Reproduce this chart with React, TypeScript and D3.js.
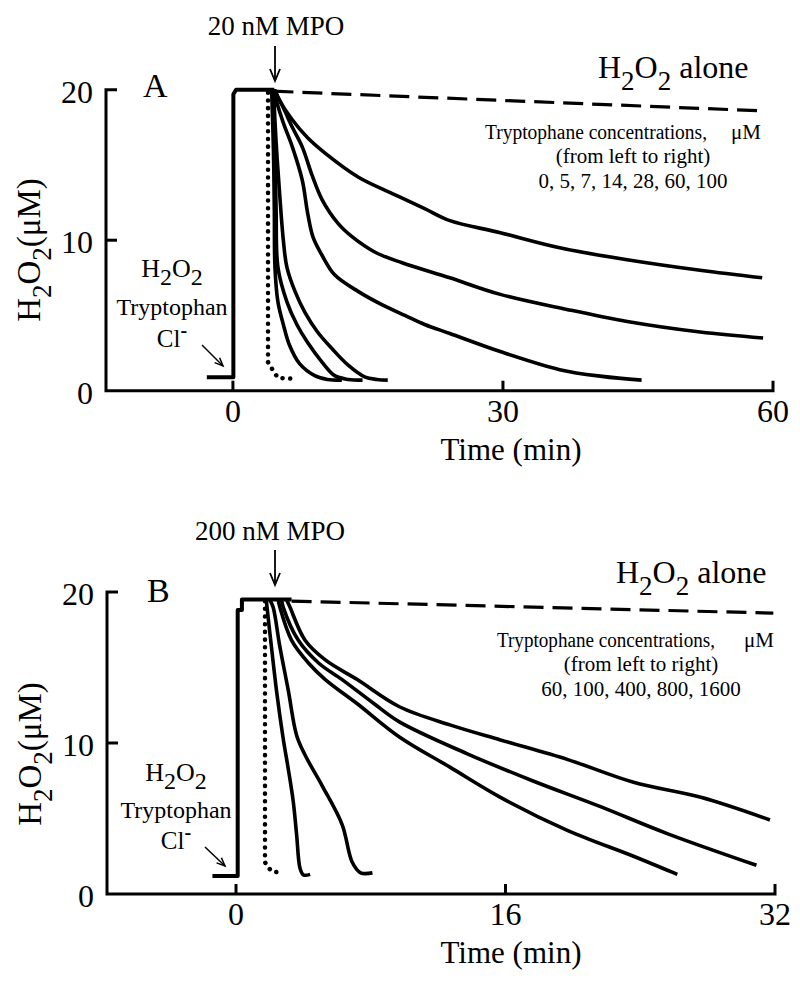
import React from "react";
import * as d3 from "d3";

type P = [number, number];

// ---------- Panel A data (time min, H2O2 µM) ----------
const traceA: P[] = [[-2.9, 0.9], [0.05, 0.9], [0.05, 19.7], [0.35, 20], [4.6, 20]];
const aloneA: P[] = [[4.5, 19.9], [58.5, 18.6]];
const dottedA: P[] = [[3.9, 19.8], [3.9, 10], [3.9, 1.9], [4.5, 1.3], [5.0, 0.85], [6.5, 0.8]];
const a5: P[] = [[4.3, 20], [4.5, 16], [4.6, 12], [4.67, 8.2], [5.0, 5.9], [5.6, 4.4], [6.3, 3.0], [7.4, 1.8], [9.1, 1.0], [10.5, 0.75], [12.1, 0.7]];
const a7: P[] = [[4.4, 20], [4.65, 16], [4.8, 12], [5.0, 8.2], [6.0, 5.9], [7.1, 4.4], [8.3, 3.2], [9.9, 1.9], [11.3, 1.0], [12.8, 0.75], [14.4, 0.7]];
const a14: P[] = [[4.5, 20], [4.8, 16.5], [5.2, 13], [5.6, 10], [6.0, 8.2], [6.9, 6.6], [8.0, 5.2], [9.4, 3.9], [11.0, 2.8], [12.8, 1.7], [14.7, 0.9], [16, 0.75], [17.2, 0.7]];
const a28: P[] = [[4.5, 20], [4.8, 19.3], [5.6, 17.8], [6.6, 16.2], [7.7, 14.0], [8.3, 11.8], [8.9, 10.2], [9.9, 9.0], [11.3, 7.7], [13.9, 6.6], [16.6, 5.7], [19.1, 5.0], [21.3, 4.4], [24.1, 3.8], [29.7, 2.6], [36.3, 1.4], [41, 0.95], [45.4, 0.7]];
const a60: P[] = [[4.6, 20], [5.6, 18.8], [6.6, 17.5], [7.7, 16.2], [8.8, 14.3], [9.9, 12.7], [11.7, 11.1], [13.3, 10.2], [15.8, 9.2], [18.8, 8.5], [24.1, 7.5], [29.7, 6.4], [37.1, 5.4], [43.8, 4.6], [51.9, 3.9], [58.9, 3.5]];
const a100: P[] = [[4.7, 20], [5.0, 19.5], [6.6, 18.0], [8.3, 16.8], [10.2, 15.8], [13.9, 14.2], [17.7, 13.1], [21.3, 12.1], [24.1, 11.3], [29.7, 10.5], [36.3, 9.5], [43.8, 8.7], [51.9, 8.0], [58.8, 7.5]];
const solidA: P[][] = [a5, a7, a14, a28, a60, a100];

// ---------- Panel B data ----------
const traceB: P[] = [[-1.4, 1.2], [0.1, 1.2], [0.1, 18.8], [0.35, 18.8], [0.35, 19.5], [3.3, 19.5]];
const aloneB: P[] = [[3.3, 19.4], [31.9, 18.6]];
const dottedB: P[] = [[1.72, 19.4], [1.72, 10], [1.72, 2.1], [2.1, 1.5], [2.7, 1.4]];
const b1: P[] = [[1.8, 19.5], [1.84, 19.0], [2.1, 16.4], [2.4, 13.5], [2.8, 10.3], [3.1, 8.3], [3.4, 6.1], [3.6, 3.9], [3.8, 1.7], [4.0, 1.26], [4.4, 1.3]];
const b2: P[] = [[2.0, 19.5], [2.2, 19.0], [2.6, 16.4], [3.1, 13.5], [3.6, 10.5], [4.1, 9.2], [5.1, 7.2], [6.3, 4.6], [6.9, 2.1], [7.4, 1.4], [8.1, 1.4]];
const b3: P[] = [[2.5, 19.5], [2.6, 19.0], [3.3, 16.8], [4.3, 15.3], [5.3, 14.2], [7.2, 12.6], [9.7, 10.4], [12.7, 8.4], [15.7, 6.4], [19.7, 4.2], [23.6, 2.5], [26.2, 1.3]];
const b4: P[] = [[2.7, 19.5], [2.8, 19.0], [3.7, 16.8], [4.9, 15.3], [6.3, 14.2], [8.2, 12.6], [9.7, 11.4], [13.7, 9.3], [17.6, 7.5], [21.6, 5.8], [25.6, 4.0], [30.9, 1.9]];
const b5: P[] = [[3.0, 19.5], [3.2, 19.0], [4.1, 16.8], [5.3, 15.5], [7.2, 14.2], [9.7, 12.4], [12.7, 11.2], [15.7, 10.2], [19.7, 8.9], [23.6, 7.4], [27.6, 6.4], [31.7, 4.9]];
const solidB: P[][] = [b1, b2, b3, b4, b5];

// ---------- ticks / labels ----------
const yTicks = [0, 10, 20];
const xTicksA = [0, 30, 60];
const xTicksB = [0, 16, 32];
const concA = "0, 5, 7, 14, 28, 60, 100";
const concB = "60, 100, 400, 800, 1600";

const FONT = "'Liberation Serif', 'Times New Roman', serif";

type PanelProps = {
  x: d3.ScaleLinear<number, number>;
  y: d3.ScaleLinear<number, number>;
  xTicks: number[];
  trace: P[];
  alone: P[];
  dotted: P[];
  solids: P[][];
  letter: string;
  mpo: string;
  conc: string;
  letterPos: [number, number];
  mpoPos: [number, number];
  arrowX: number;
  arrowY: [number, number];
  alonePos: [number, number];
  txt1: [number, number, number, number];
  txtC: number;
  leftLabel: [number, number, number, number];
  smallArrow: [number, number, number, number];
  yLabel: [number, number];
};

function Panel(p: PanelProps) {
  const { x, y } = p;
  const lineLin = d3.line<P>().x(d => x(d[0])).y(d => y(d[1]));
  const lineSmooth = d3.line<P>().x(d => x(d[0])).y(d => y(d[1])).curve(d3.curveCatmullRom.alpha(0.5));
  const x0 = x.range()[0];
  const x1 = x.range()[1];
  const y0 = y(0);
  const yTop = y(20);
  const [sx1, sy1, sx2, sy2] = p.smallArrow;
  const ang = Math.atan2(sy2 - sy1, sx2 - sx1);
  const head = (len: number, a: number) => [sx2 - len * Math.cos(ang - a), sy2 - len * Math.sin(ang - a), sx2 - len * Math.cos(ang + a), sy2 - len * Math.sin(ang + a)];
  const h = head(9, 0.4);
  const [llx, lly1, lly2, lly3] = p.leftLabel;
  const [t1x, t1y, t1len, muX] = p.txt1;
  return (
    <g>
      {/* axes */}
      <path d={`M${x0 + 11},${yTop} H${x0} V${y0} H${x1} V${y0 - 10}`} fill="none" stroke="#000" strokeWidth={3} />
      {yTicks.filter(t => t > 0 && t < 20).map(t => (
        <line key={t} x1={x0} x2={x0 + 11} y1={y(t)} y2={y(t)} stroke="#000" strokeWidth={3} />
      ))}
      {p.xTicks.slice(0, -1).map(t => (
        <line key={t} x1={x(t)} x2={x(t)} y1={y0} y2={y0 - 10} stroke="#000" strokeWidth={3} />
      ))}
      {yTicks.map(t => (
        <text key={t} x={x0 - 13} y={y(t) + 13} textAnchor="end" fontSize={32}>{t}</text>
      ))}
      {p.xTicks.map(t => (
        <text key={t} x={x(t)} y={y0 + 31} textAnchor="middle" fontSize={32}>{t}</text>
      ))}
      <text x={511} y={y0 + 69} textAnchor="middle" fontSize={31}>Time (min)</text>
      <text transform={`translate(${p.yLabel[0]},${p.yLabel[1]}) rotate(-90)`} textAnchor="middle" fontSize={33}>
        H<tspan fontSize={27} dy={11}>2</tspan><tspan dy={-11}>O</tspan><tspan fontSize={27} dy={11}>2</tspan><tspan dy={-11}>(μM)</tspan>
      </text>

      {/* data */}
      <path d={lineLin(p.alone) || ""} fill="none" stroke="#000" strokeWidth={3.2} strokeDasharray="20 9" />
      <path d={lineLin(p.trace) || ""} fill="none" stroke="#000" strokeWidth={4} strokeLinejoin="round" />
      <path d={lineLin(p.dotted) || ""} fill="none" stroke="#000" strokeWidth={4.5} strokeDasharray="0.1 7.6" strokeLinecap="round" />
      {p.solids.map((s, i) => (
        <path key={i} d={lineSmooth(s) || ""} fill="none" stroke="#000" strokeWidth={3.6} strokeLinejoin="round" />
      ))}

      {/* annotations */}
      <text x={p.letterPos[0]} y={p.letterPos[1]} fontSize={34}>{p.letter}</text>
      <text x={p.mpoPos[0]} y={p.mpoPos[1]} textAnchor="middle" fontSize={27}>{p.mpo}</text>
      <line x1={p.arrowX} x2={p.arrowX} y1={p.arrowY[0]} y2={p.arrowY[1]} stroke="#000" strokeWidth={1.8} />
      <path d={`M${p.arrowX - 5},${p.arrowY[1] - 12} L${p.arrowX},${p.arrowY[1]} L${p.arrowX + 5},${p.arrowY[1] - 12}`} fill="none" stroke="#000" strokeWidth={1.8} />
      <text x={p.alonePos[0]} y={p.alonePos[1]} fontSize={32}>
        H<tspan fontSize={27} dy={12}>2</tspan><tspan dy={-12}>O</tspan><tspan fontSize={27} dy={12}>2</tspan><tspan dy={-12}> alone</tspan>
      </text>
      <text x={t1x} y={t1y} fontSize={20} textLength={t1len} lengthAdjust="spacingAndGlyphs">Tryptophane concentrations,</text>
      <text x={muX} y={t1y} fontSize={21}>μM</text>
      <text x={p.txtC} y={t1y + 24} textAnchor="middle" fontSize={21}>(from left to right)</text>
      <text x={p.txtC} y={t1y + 49} textAnchor="middle" fontSize={21}>{p.conc}</text>

      <text x={llx} y={lly1} textAnchor="middle" fontSize={26}>
        H<tspan fontSize={24} dy={8}>2</tspan><tspan dy={-8}>O</tspan><tspan fontSize={24} dy={8}>2</tspan>
      </text>
      <text x={llx} y={lly2} textAnchor="middle" fontSize={24}>Tryptophan</text>
      <text x={llx} y={lly3} textAnchor="middle" fontSize={25}>
        Cl<tspan dy={-10} fontSize={20} fontWeight="bold">-</tspan>
      </text>
      <line x1={sx1} y1={sy1} x2={sx2} y2={sy2} stroke="#000" strokeWidth={1.5} />
      <path d={`M${h[0]},${h[1]} L${sx2},${sy2} L${h[2]},${h[3]}`} fill="none" stroke="#000" strokeWidth={1.5} />
    </g>
  );
}

export default function App() {
  const xA = d3.scaleLinear().domain([-14.1, 60]).range([106, 773]);
  const yA = d3.scaleLinear().domain([0, 20]).range([390.7, 89.7]);
  const xB = d3.scaleLinear().domain([-7.66, 32]).range([107, 775]);
  const yB = d3.scaleLinear().domain([0, 20]).range([894, 592]);
  return (
    <div style={{ position: "absolute", left: 0, top: 0 }}>
      <svg width={800} height={982} style={{ display: "block", fontFamily: FONT }} fill="#000">
        <rect width={800} height={982} fill="#fff" />
        <Panel x={xA} y={yA} xTicks={xTicksA} trace={traceA} alone={aloneA} dotted={dottedA} solids={solidA}
          letter="A" mpo="20 nM MPO" conc={concA} letterPos={[143, 97]} mpoPos={[276, 35]} arrowX={275} arrowY={[46, 81]}
          alonePos={[598, 78]} txt1={[485, 139, 222, 731]} txtC={633} leftLabel={[172, 277, 315, 347]} smallArrow={[202, 345, 223, 366]}
          yLabel={[40, 250]} />
        <Panel x={xB} y={yB} xTicks={xTicksB} trace={traceB} alone={aloneB} dotted={dottedB} solids={solidB}
          letter="B" mpo="200 nM MPO" conc={concB} letterPos={[147, 602]} mpoPos={[270, 540]} arrowX={275} arrowY={[550, 585]}
          alonePos={[616, 583]} txt1={[497, 647, 218, 744]} txtC={641} leftLabel={[176, 781, 818, 849]} smallArrow={[205, 847, 225, 866]}
          yLabel={[41, 754]} />
      </svg>
    </div>
  );
}
